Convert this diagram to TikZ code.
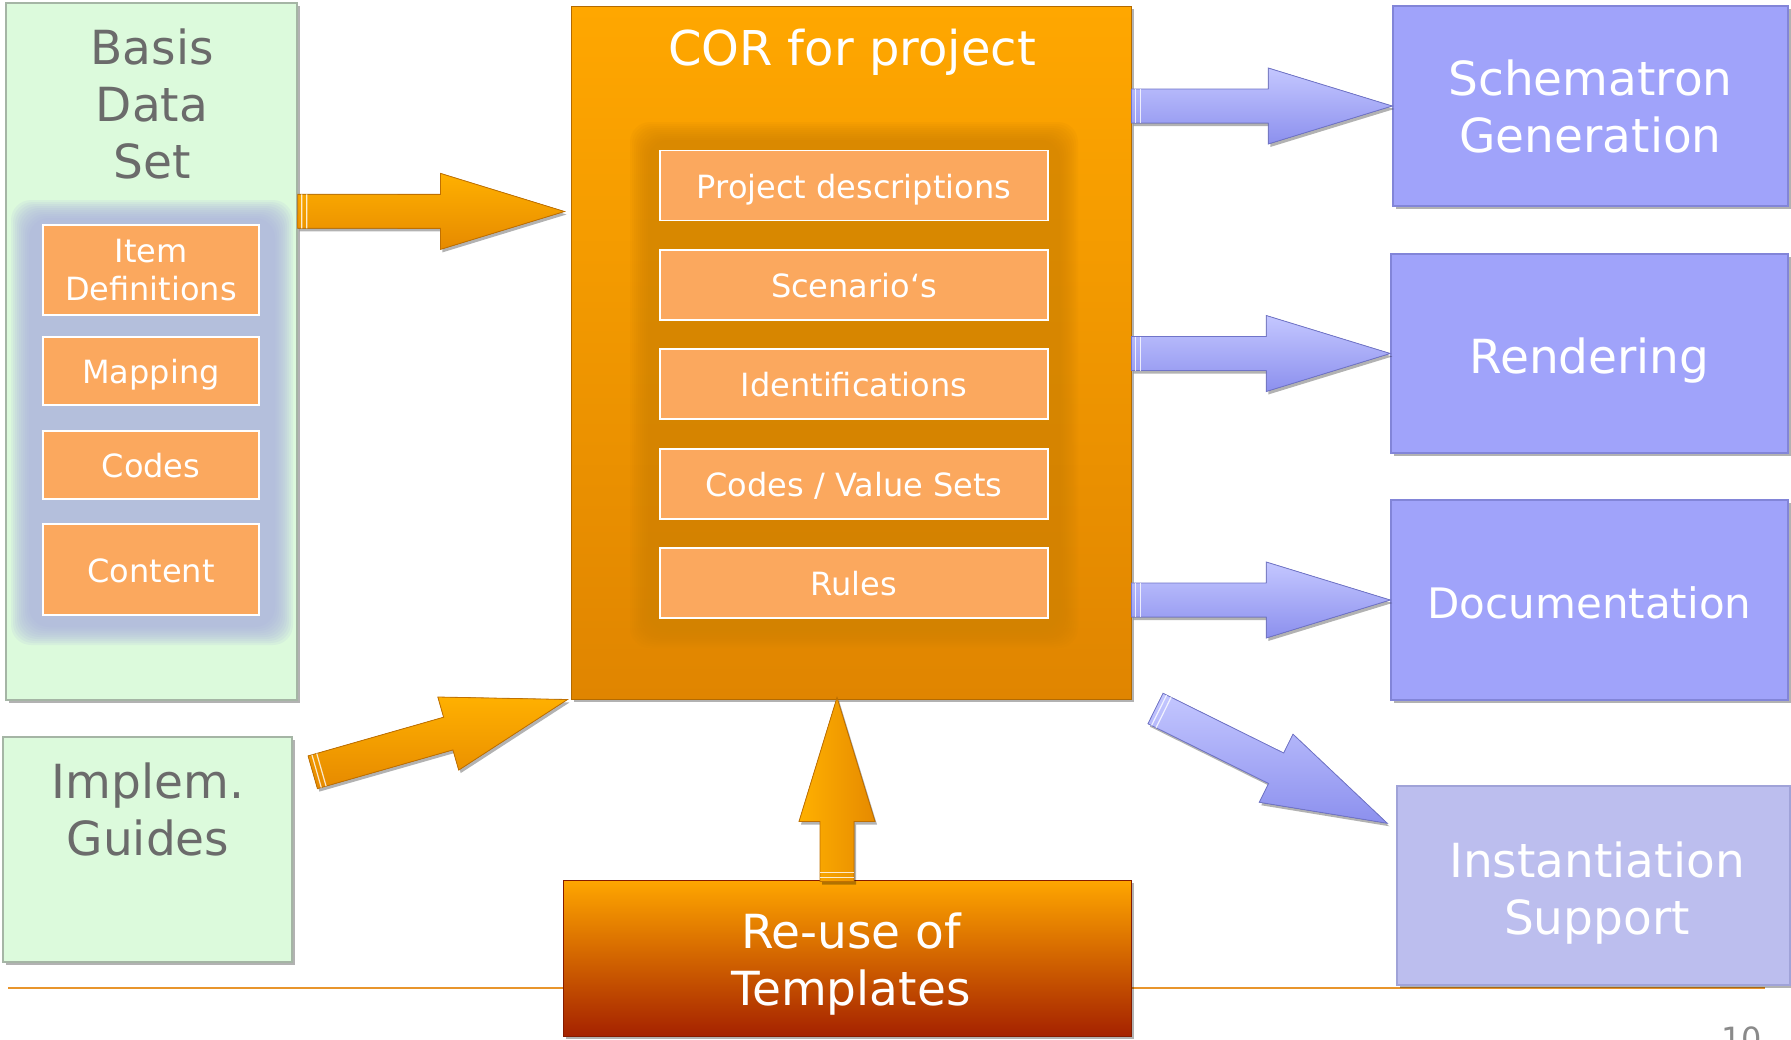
\documentclass[tikz,border=0pt]{standalone}
\usepackage{fontspec}
\setmainfont{DejaVu Sans}
\usetikzlibrary{calc,shadows}

\definecolor{grnF}{HTML}{DCFADC}
\definecolor{grnD}{HTML}{A5B5A5}
\definecolor{grayT}{HTML}{6B6B6B}
\definecolor{itmF}{HTML}{FBA85E}
\definecolor{corT}{HTML}{FFA700}
\definecolor{corB}{HTML}{E08500}
\definecolor{glowO}{HTML}{CF8200}
\definecolor{glowP}{HTML}{A9ADE0}
\definecolor{purF}{HTML}{A0A3FA}
\definecolor{purD}{HTML}{8285D8}
\definecolor{instF}{HTML}{BCBEEE}
\definecolor{instD}{HTML}{A0A3D8}
\definecolor{reT}{HTML}{FFA600}
\definecolor{reM}{HTML}{EC7A00}
\definecolor{reB}{HTML}{A52200}
\definecolor{arOT}{HTML}{FFB000}
\definecolor{arOB}{HTML}{E68A00}
\definecolor{arOD}{HTML}{C07000}
\definecolor{arPT}{HTML}{C4C7FF}
\definecolor{arPB}{HTML}{8C90EE}
\definecolor{arPD}{HTML}{7074C8}
\definecolor{lineC}{HTML}{E8952C}
\definecolor{pageN}{HTML}{8A8A8A}

\newcommand\bigtxt{\fontsize{47}{57}\selectfont}
\newcommand\doctxt{\fontsize{42}{50}\selectfont}
\newcommand\cortxt{\fontsize{48}{57}\selectfont}
\newcommand\midtxt{\fontsize{32}{38}\selectfont}

% fat arrow: #1 start, #2 end, #3 style
\newcommand\fatarrow[3]{%
  \coordinate (fas) at #1;
  \coordinate (fae) at #2;
  \coordinate (fah) at ($(fae)!124pt!(fas)$);
  \coordinate (fat1) at ($(fas)!4pt!(fae)$);
  \coordinate (fat2) at ($(fas)!9pt!(fae)$);
  \filldraw[#3] ($(fas)!17pt!90:(fae)$) -- ($(fah)!17pt!90:(fae)$) --
    ($(fah)!38pt!90:(fae)$) -- (fae) -- ($(fah)!38pt!-90:(fae)$) --
    ($(fah)!17pt!-90:(fae)$) -- ($(fas)!17pt!-90:(fae)$) -- cycle;
  \draw[white, opacity=0.8, line width=1.2pt] ($(fat1)!17pt!90:(fae)$) -- ($(fat1)!17pt!-90:(fae)$);
  \draw[white, opacity=0.8, line width=1.2pt] ($(fat2)!17pt!90:(fae)$) -- ($(fat2)!17pt!-90:(fae)$);
}

\begin{document}
\begin{tikzpicture}[x=1pt,y=-1pt,
  shd/.style={drop shadow={shadow xshift=3pt,shadow yshift=-3pt,opacity=0.3,fill=black}},
  greenbox/.style={fill=grnF, draw=grnD, line width=1.5pt, shd, inner sep=0pt},
  itembox/.style={fill=itmF, draw=white, line width=1.8pt, inner sep=0pt,
    minimum width=216pt, text=white, font=\midtxt, align=center},
  oneitem/.style={text height=25.5pt, text depth=0pt},
  coritem/.style={fill=itmF, draw=white, line width=1.8pt, inner sep=0pt,
    minimum width=388pt, minimum height=70pt, text=white, font=\midtxt,
    text height=25.5pt, text depth=0pt},
  corbox/.style={top color=corT, bottom color=corB, draw=corB!80!black, line width=1pt, shd, inner sep=0pt},
  reusebox/.style={shading=axis, top color=reT, middle color=reM, bottom color=reB,
    draw=reB!80!black, line width=1pt, shd, inner sep=0pt},
  purbox/.style={fill=purF, draw=purD, line width=1.5pt, shd, inner sep=0pt,
    text=white, font=\bigtxt, align=center},
  instbox/.style={fill=instF, draw=instD, line width=1.5pt, shd, inner sep=0pt},
  whitelabel/.style={text=white, font=\bigtxt, align=center, inner sep=0pt},
  graylabel/.style={text=grayT, font=\bigtxt, align=center, inner sep=0pt},
  oarrow/.style={top color=arOT, bottom color=arOB, draw=arOD, line width=0.8pt,
    drop shadow={shadow xshift=2pt,shadow yshift=-3pt,opacity=0.3,fill=black}},
  parrow/.style={top color=arPT, bottom color=arPB, draw=arPD, line width=0.8pt,
    drop shadow={shadow xshift=2pt,shadow yshift=-3pt,opacity=0.3,fill=black}}
]
\useasboundingbox (0,0) rectangle (1791,1039);
\fill[white] (0,0) rectangle (1791,1039);

% horizontal rule
\draw[lineC, line width=2.5pt] (8,988) -- (1765,988);

% ---------- Basis Data Set ----------
\node[greenbox, minimum width=291pt, minimum height=697pt] (basis) at (151.5,351.5) {};
\node[graylabel] (basislbl) at (152,104) {Basis\\Data\\Set};
\foreach \d in {18,16,...,0}
  \fill[glowP, opacity=0.12, rounded corners=20pt] (29-\d,218-\d) rectangle (275+\d,627+\d);
\node[itembox, minimum height=90pt] (itemdef) at (151,270) {Item\\Definitions};
\node[itembox, oneitem, minimum height=68pt] (mapping) at (151,371) {Mapping};
\node[itembox, oneitem, minimum height=68pt] (codes) at (151,465) {Codes};
\node[itembox, oneitem, minimum height=91pt] (content) at (151,569.5) {Content};

% ---------- Implem. Guides ----------
\node[greenbox, minimum width=289pt, minimum height=225pt] (implem) at (147.5,849.5) {};
\node[graylabel] (implemlbl) at (148,809) {Implem.\\Guides};

% ---------- COR for project ----------
\node[corbox, minimum width=560pt, minimum height=693pt] (cor) at (851,352.5) {};
\node[text=white, font=\cortxt, inner sep=0pt] (corlbl) at (852,52) {COR for project};
\foreach \d in {18,16,...,0}
  \fill[glowO, opacity=0.1, rounded corners=20pt] (648-\d,140-\d) rectangle (1060+\d,630+\d);
\node[coritem] (pd) at (854,185.5) {Project descriptions};
\node[coritem] (sc) at (854,285) {Scenario‘s};
\node[coritem] (id) at (854,384) {Identifications};
\node[coritem] (cv) at (854,483.7) {Codes / Value Sets};
\node[coritem] (ru) at (854,583) {Rules};

% ---------- Re-use of Templates ----------
\node[reusebox, minimum width=568pt, minimum height=156pt] (reuse) at (847,958) {};
\node[whitelabel] (reuselbl) at (851,964) {Re-use of\\Templates};

% ---------- right boxes ----------
\node[purbox, minimum width=395pt, minimum height=200pt] (schem) at (1590.5,106) {Schematron\\Generation};
\node[purbox, minimum width=397pt, minimum height=199pt, text height=40pt, text depth=0pt] (rend) at (1589.5,353.5) {Rendering};
\node[purbox, minimum width=397pt, minimum height=200pt, font=\doctxt, text height=37.5pt, text depth=0pt] (doc) at (1589.5,600) {Documentation};
\node[instbox, minimum width=393pt, minimum height=199pt] (inst) at (1593.5,885.5) {};
\node[whitelabel] (instlbl) at (1597,893.5) {Instantiation\\Support};

% ---------- arrows ----------
\fatarrow{($(basis.north east)+(0,209)$)}{($(cor.north west)+(-6,206)$)}{oarrow}
\fatarrow{($(implem.north east)+(20,36)$)}{($(cor.south west)+(-3,0)$)}{oarrow}
\fatarrow{($(reuse.north)+(-10,2)$)}{($(cor.south)+(-14,-2)$)}{oarrow, shading angle=90}
\fatarrow{(cor.east |- schem.west)}{(schem.west)}{parrow}
\fatarrow{(cor.east |- rend.west)}{(rend.west)}{parrow}
\fatarrow{(cor.east |- doc.west)}{(doc.west)}{parrow}
\fatarrow{($(cor.south east)+(24,9)$)}{($(inst.north west)+(-9,38)$)}{parrow}

% page number (cut off at bottom edge, as in the reference)
\node[text=pageN, font=\fontsize{32}{38}\selectfont, anchor=base west, inner sep=0pt] (pagenum) at (1721,1050) {10};
\end{tikzpicture}
\end{document}
